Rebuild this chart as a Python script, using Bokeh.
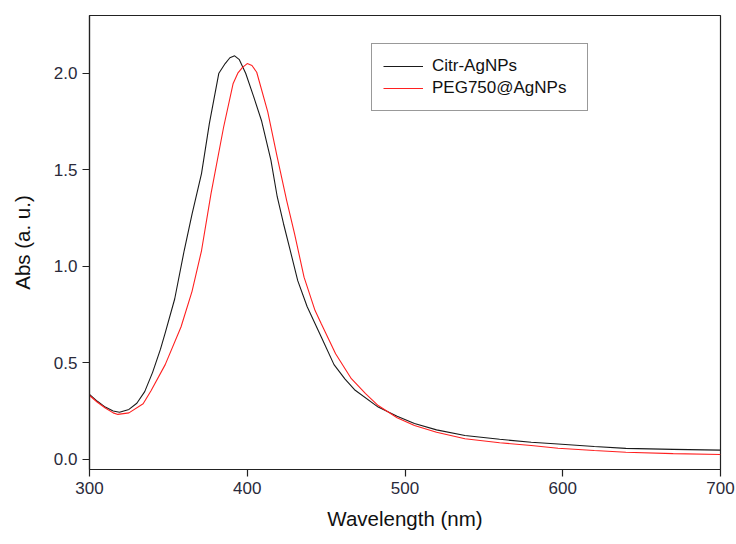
from bokeh.plotting import figure
from bokeh.models import Range1d, FixedTicker, NumeralTickFormatter, Legend, LegendItem
from bokeh.embed import file_html
from bokeh.resources import INLINE

# Citr-AgNPs spectrum (wavelength nm, absorbance)
citr_wl = [300, 305, 310, 315, 319, 325, 330, 335, 340, 345, 348, 354, 360, 365, 371,
           376, 382, 386, 389, 392, 395, 399, 404, 409, 415, 419, 423, 427, 432, 438,
           447, 455, 462, 468, 483, 495, 506, 520, 538, 560, 580, 597, 620, 640, 670, 700]
citr_abs = [0.335, 0.300, 0.270, 0.250, 0.243, 0.258, 0.290, 0.350, 0.450, 0.570, 0.655,
            0.830, 1.080, 1.270, 1.480, 1.740, 2.000, 2.050, 2.080, 2.090, 2.070, 2.000,
            1.880, 1.755, 1.550, 1.360, 1.220, 1.090, 0.925, 0.790, 0.632, 0.490, 0.415,
            0.360, 0.270, 0.222, 0.185, 0.152, 0.123, 0.103, 0.088, 0.079, 0.066, 0.056,
            0.051, 0.047]

# PEG750@AgNPs spectrum
peg_wl = [300, 305, 310, 315, 318, 325, 334, 339, 348, 358, 365, 371, 377, 385,
          391, 394, 397, 400, 403, 406, 413, 419, 425, 430, 436, 443, 447, 452, 456,
          466, 475, 483, 495, 506, 520, 538, 560, 580, 597, 620, 640, 670, 700]
peg_abs = [0.330, 0.295, 0.265, 0.240, 0.232, 0.240, 0.287, 0.355, 0.490, 0.685, 0.870,
           1.080, 1.375, 1.720, 1.945, 2.000, 2.030, 2.050, 2.040, 2.005, 1.800,
           1.565, 1.340, 1.168, 0.943, 0.770, 0.700, 0.615, 0.546, 0.417, 0.340, 0.278,
           0.215, 0.175, 0.140, 0.106, 0.085, 0.071, 0.057, 0.045, 0.036, 0.029, 0.024]

x_ticks = [300, 400, 500, 600, 700]
y_ticks = [0.0, 0.5, 1.0, 1.5, 2.0]

FONT = "Liberation Sans"

p = figure(frame_width=631, frame_height=454,
           x_range=Range1d(300, 700), y_range=Range1d(-0.0534, 2.299),
           output_backend="svg", toolbar_location=None,
           min_border_left=89, min_border_right=16, min_border_top=15, min_border_bottom=75,
           background_fill_color="white", border_fill_color="white")

p.outline_line_color = "#222222"
p.outline_line_width = 1.2
p.xgrid.visible = False
p.ygrid.visible = False

r1 = p.line(citr_wl, citr_abs, line_color="#1a1a1a", line_width=1.1)
r2 = p.line(peg_wl, peg_abs, line_color="#ff2020", line_width=1.1)

for ax in (p.xaxis[0], p.yaxis[0]):
    ax.axis_line_color = "#222222"
    ax.axis_line_width = 1.2
    ax.major_tick_line_color = "#222222"
    ax.major_tick_line_width = 1.2
    ax.major_tick_in = 0
    ax.major_tick_out = 7
    ax.minor_tick_line_color = None
    ax.major_label_text_font = FONT
    ax.major_label_text_font_size = "17px"
    ax.major_label_text_color = "#2a2a3a"
    ax.axis_label_text_font = FONT
    ax.axis_label_text_font_size = "20.5px"
    ax.axis_label_text_font_style = "normal"
    ax.axis_label_text_color = "#111111"

p.xaxis.ticker = FixedTicker(ticks=x_ticks)
p.yaxis.ticker = FixedTicker(ticks=y_ticks)
p.yaxis.formatter = NumeralTickFormatter(format="0.0")
p.xaxis.axis_label = "Wavelength (nm)"
p.yaxis.axis_label = "Abs (a. u.)"
p.xaxis.major_label_standoff = 5
p.yaxis.major_label_standoff = 5
p.xaxis.axis_label_standoff = 10
p.yaxis.axis_label_standoff = 17

legend = Legend(items=[LegendItem(label="Citr-AgNPs", renderers=[r1]),
                       LegendItem(label="PEG750@AgNPs", renderers=[r2])],
                location=(282, 358))
legend.border_line_color = "#333333"
legend.border_line_width = 1.5
legend.background_fill_alpha = 1
legend.padding = 11
legend.spacing = 0
legend.margin = 0
legend.glyph_width = 40
legend.glyph_height = 22
legend.label_height = 22
legend.label_standoff = 9
legend.label_width = 144
legend.label_text_font = FONT
legend.label_text_font_size = "17px"
legend.label_text_color = "#111111"
p.add_layout(legend, "center")

open("out.html", "w").write(file_html(p, INLINE))
